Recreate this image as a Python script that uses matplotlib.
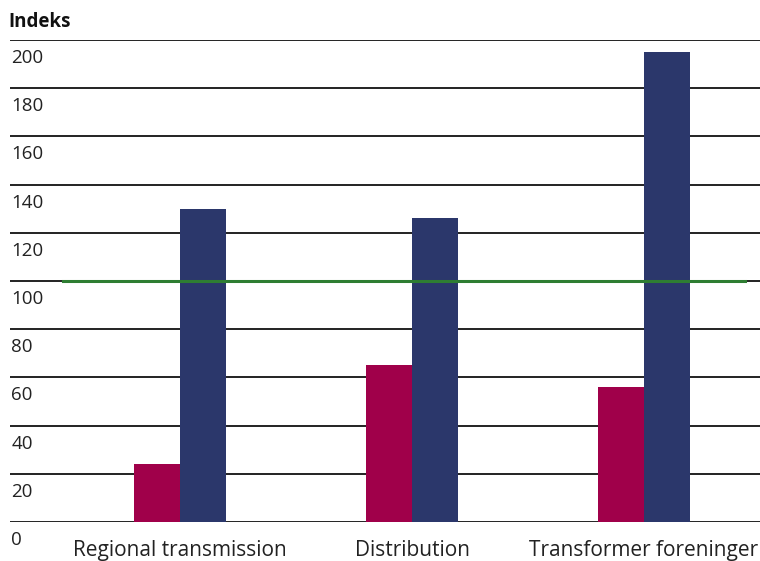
import numpy as np
import matplotlib.pyplot as plt
from matplotlib.transforms import blended_transform_factory

plt.rcParams['font.family'] = ['Open Sans', 'DejaVu Sans']

categories = ['Regional transmission', 'Distribution', 'Transformer foreninger']
red_values = [24, 65, 56]
blue_values = [130, 126, 195]
reference = 100
yticks = [0, 20, 40, 60, 80, 100, 120, 140, 160, 180, 200]

fig = plt.figure(figsize=(7.6, 5.61), dpi=100)
ax = fig.add_axes([10/760, 39/561, 750/760, 482/561])

x = np.arange(len(categories))
w = 0.198
ax.bar(x - w/2, red_values, width=w, color='#A0004A', zorder=3)
ax.bar(x + w/2, blue_values, width=w, color='#2B376B', zorder=3)

for t in yticks:
    ax.axhline(t, color='#111111', lw=1.3, zorder=1)
ax.plot([-0.504, 2.435], [reference, reference], color='#2E7D32', lw=2.2, zorder=4)

ax.set_xlim(-0.733, 2.5)
ax.set_ylim(0, 200)
ax.axis('off')

tr = blended_transform_factory(ax.transAxes, ax.transData)
for t in yticks:
    ax.text(0.002, t - 7.5, str(t), transform=tr, ha='left', va='center',
            fontsize=13.5, color='#222222', clip_on=False)

for i, c in enumerate(categories):
    ax.text(i, -12, c, ha='center', va='center', fontsize=15, color='#222222', clip_on=False)

fig.text(8/760, 1 - 22/561, 'Indeks', fontsize=13.5, fontweight='bold', ha='left', va='center', color='#111111')

fig.savefig('out.png', dpi=100)
